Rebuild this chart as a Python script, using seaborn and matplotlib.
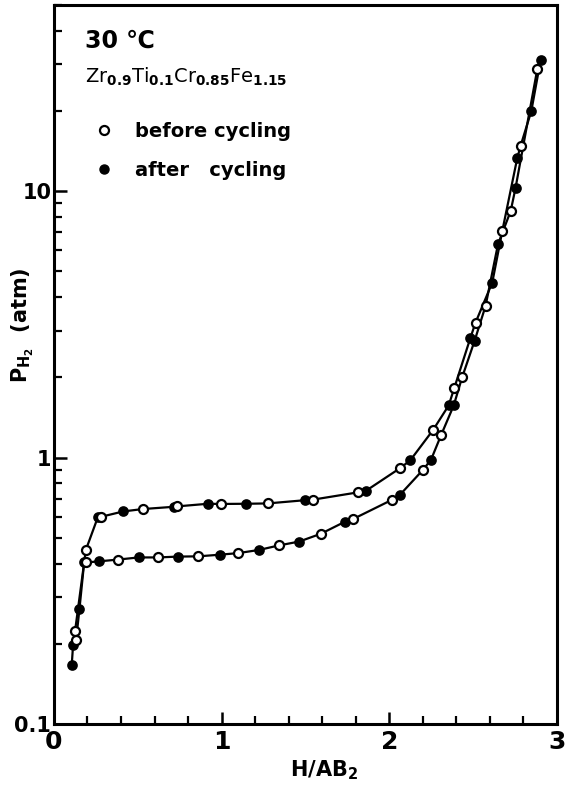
import matplotlib
matplotlib.use("Agg")
import matplotlib.pyplot as plt
import matplotlib.ticker as mticker
from matplotlib.lines import Line2D
import pandas as pd
import seaborn as sns

# upper branch (absorption), 'b' = before cycling (open), 'a' = after cycling (filled)
abs_x = [0.126, 0.19, 0.262, 0.283, 0.413, 0.529, 0.719, 0.735, 0.918, 0.998,
         1.144, 1.275, 1.497, 1.543, 1.816, 1.862, 2.066, 2.126, 2.262, 2.355,
         2.389, 2.485, 2.515, 2.615, 2.675, 2.764, 2.784, 2.848, 2.904]
abs_p = [0.224, 0.45, 0.598, 0.60, 0.628, 0.641, 0.654, 0.656, 0.671, 0.670,
         0.671, 0.673, 0.692, 0.695, 0.741, 0.751, 0.914, 0.977, 1.27, 1.57,
         1.83, 2.82, 3.21, 4.54, 7.10, 13.3, 14.8, 20.0, 31.2]
abs_state = ['b', 'b', 'a', 'b', 'a', 'b', 'a', 'b', 'a', 'b',
             'a', 'b', 'a', 'b', 'b', 'a', 'b', 'a', 'b', 'a',
             'b', 'a', 'b', 'a', 'b', 'a', 'b', 'a', 'a']

# lower branch (desorption)
des_x = [0.106, 0.114, 0.132, 0.152, 0.18, 0.193, 0.269, 0.379, 0.505, 0.623,
         0.738, 0.862, 0.988, 1.098, 1.222, 1.341, 1.463, 1.593, 1.737, 1.782,
         2.016, 2.066, 2.202, 2.25, 2.311, 2.385, 2.435, 2.51, 2.575, 2.649,
         2.725, 2.754, 2.884]
des_p = [0.167, 0.198, 0.207, 0.27, 0.404, 0.404, 0.408, 0.414, 0.422, 0.422,
         0.425, 0.426, 0.432, 0.438, 0.45, 0.468, 0.484, 0.518, 0.575, 0.587,
         0.694, 0.727, 0.90, 0.983, 1.22, 1.57, 2.0, 2.75, 3.71, 6.32,
         8.43, 10.3, 28.8]
des_state = ['a', 'a', 'b', 'a', 'a', 'b', 'a', 'b', 'a', 'b',
             'a', 'b', 'a', 'b', 'a', 'b', 'a', 'b', 'a', 'b',
             'b', 'a', 'b', 'a', 'b', 'a', 'b', 'a', 'b', 'a',
             'b', 'a', 'b']

x_ticks = [0, 1, 2, 3]
y_ticks = [0.1, 1, 10]
y_tick_labels = ['0.1', '1', '10']

df = pd.concat([
    pd.DataFrame({'h': abs_x, 'p': abs_p, 'state': abs_state, 'curve': 'abs'}),
    pd.DataFrame({'h': des_x, 'p': des_p, 'state': des_state, 'curve': 'des'}),
], ignore_index=True)

sns.set_theme(style="ticks")
plt.rcParams['font.family'] = ['DejaVu Sans']
plt.rcParams['mathtext.default'] = 'bf'
for key in ['text.color', 'axes.labelcolor', 'xtick.color', 'ytick.color',
            'xtick.labelcolor', 'ytick.labelcolor']:
    plt.rcParams[key] = 'black'

fig = plt.figure(figsize=(5.67, 7.85), dpi=100)
ax = fig.add_axes([0.0952, 0.0777, 0.8868, 0.9159])

sns.lineplot(data=df, x='h', y='p', units='curve', estimator=None, sort=False,
             color='black', linewidth=1.6, ax=ax, legend=False)
before = df[df['state'] == 'b']
after = df[df['state'] == 'a']
ax.scatter(after['h'], after['p'], s=42, facecolor='black', edgecolor='black',
           linewidth=1.2, zorder=3)
ax.scatter(before['h'], before['p'], s=42, facecolor='white', edgecolor='black',
           linewidth=1.6, zorder=4)

ax.set_yscale('log')
ax.set_xlim(0, 3)
ax.set_ylim(0.1, 50)

ax.xaxis.set_major_locator(mticker.FixedLocator(x_ticks))
ax.xaxis.set_minor_locator(mticker.MultipleLocator(0.2))
ax.yaxis.set_major_locator(mticker.FixedLocator(y_ticks))
ax.yaxis.set_major_formatter(mticker.FixedFormatter(y_tick_labels))
ax.yaxis.set_minor_locator(mticker.LogLocator(base=10, subs=range(2, 10)))
ax.yaxis.set_minor_formatter(mticker.NullFormatter())

ax.tick_params(axis='both', which='both', direction='in', color='black',
               top=False, right=False)
ax.tick_params(axis='x', which='major', length=9, width=1.8, labelsize=18, pad=4)
ax.tick_params(axis='x', which='minor', length=6, width=1.6)
ax.tick_params(axis='y', which='major', length=9, width=1.8, labelsize=15, pad=2)
ax.tick_params(axis='y', which='minor', length=6, width=1.6)
for lab in ax.get_xticklabels() + ax.get_yticklabels():
    lab.set_fontweight('bold')

for sp in ax.spines.values():
    sp.set_linewidth(2.2)
    sp.set_color('black')

ax.set_xlabel('H/AB$_2$', fontsize=15, fontweight='bold', labelpad=2)
ax.xaxis.set_label_coords(0.537, -0.048)
ax.set_ylabel('P$_{H_2}$  (atm)', fontsize=15, fontweight='bold')
ax.yaxis.set_label_coords(-0.035, 0.555)

ax.text(0.062, 0.95, '30 \u2103', transform=ax.transAxes, fontsize=17,
        fontweight='bold', va='center', ha='left')
ax.text(0.062, 0.90, 'Zr$_{0.9}$Ti$_{0.1}$Cr$_{0.85}$Fe$_{1.15}$',
        transform=ax.transAxes, fontsize=14, va='center', ha='left')

handles = [
    Line2D([], [], linestyle='none', marker='o', markersize=6.5,
           markerfacecolor='white', markeredgecolor='black', markeredgewidth=1.6),
    Line2D([], [], linestyle='none', marker='o', markersize=6.5,
           markerfacecolor='black', markeredgecolor='black'),
]
ax.legend(handles, ['before cycling', 'after   cycling'], loc='upper left',
          bbox_to_anchor=(0.065, 0.848), frameon=False, handlelength=1.0,
          handletextpad=1.1, labelspacing=1.0, borderaxespad=0,
          prop={'size': 14, 'weight': 'bold'})

fig.savefig('out.png', dpi=100)
